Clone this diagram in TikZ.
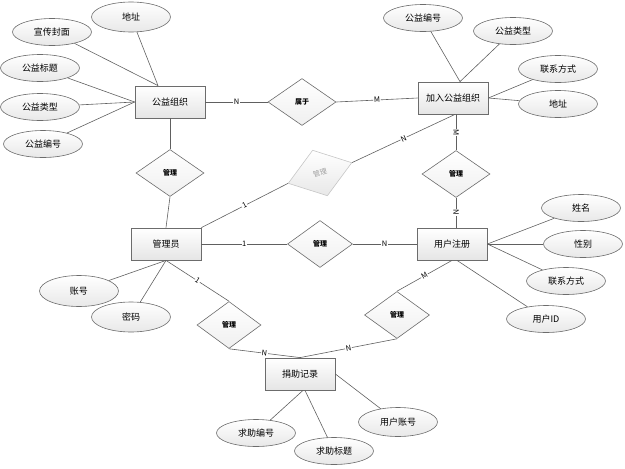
\documentclass[tikz,border=0pt]{standalone}
\usepackage{fontspec}
\setmainfont{Noto Sans CJK SC}
\usetikzlibrary{shapes.geometric}

\tikzset{
  entity/.style={draw=gray!85!black,line width=0.8pt,top color=white,bottom color=gray!20,
    minimum width=70pt,minimum height=32pt,inner sep=0pt,font=\fontsize{9}{10}\selectfont},
  attr/.style={ellipse,draw=gray!85!black,line width=0.6pt,top color=white,bottom color=gray!18,
    minimum width=79pt,minimum height=27pt,inner sep=0pt,font=\fontsize{9}{10}\selectfont},
  rel/.style={diamond,draw=gray!85!black,line width=0.6pt,top color=white,bottom color=gray!12,
    minimum width=68pt,minimum height=47pt,inner sep=0pt,font=\fontsize{7}{8}\selectfont\bfseries},
  ghost/.style={rel,draw=gray!45,top color=white,bottom color=gray!18,text=gray!75,font=\fontsize{7}{8}\selectfont},
  link/.style={draw=gray!75!black,line width=0.6pt},
  card/.style={fill=white,inner sep=0.6pt,sloped,font=\fontsize{7.5}{8}\selectfont}
}

\begin{document}
\begin{tikzpicture}[x=1pt,y=-1pt]
\useasboundingbox (0,0) rectangle (625,469);

% entities
\node[entity] (org) at (170,102) {公益组织};
\node[entity] (join) at (453,98) {加入公益组织};
\node[entity] (adm) at (166,244) {管理员};
\node[entity] (reg) at (452,244) {用户注册};
\node[entity] (don) at (300,374) {捐助记录};

% relations
\node[rel] (belong) at (302,102) {属于};
\node[rel] (mgrA) at (170,173) {管理};
\node[rel] (mgrB) at (456,174) {管理};
\node[ghost,rotate=18,minimum width=67pt,minimum height=48pt] (mgrG) at (320,173) {管理};
\node[rel,minimum width=65pt] (mgrC) at (320,244) {管理};
\node[rel,minimum width=64pt] (mgrD) at (229,325) {管理};
\node[rel,minimum width=65pt] (mgrE) at (397,315) {管理};

% attributes
\node[attr] (orgCover) at (52,32) {宣传封面};
\node[attr,minimum height=30pt] (orgAddr) at (131,17) {地址};
\node[attr] (orgTitle) at (40,68) {公益标题};
\node[attr] (orgType) at (40,107) {公益类型};
\node[attr] (orgNo) at (43,144) {公益编号};

\node[attr] (joinNo) at (423,18) {公益编号};
\node[attr] (joinType) at (513,31) {公益类型};
\node[attr] (joinTel) at (558,69) {联系方式};
\node[attr] (joinAddr) at (558,104) {地址};

\node[attr] (regName) at (581,208) {姓名};
\node[attr] (regSex) at (583,244) {性别};
\node[attr] (regTel) at (566,281) {联系方式};
\node[attr] (regId) at (546,319) {用户ID};

\node[attr,minimum height=31pt] (admAcc) at (79,291) {账号};
\node[attr,minimum height=30pt] (admPwd) at (131,317) {密码};

\node[attr] (donNo) at (256,433) {求助编号};
\node[attr] (donTitle) at (334,451) {求助标题};
\node[attr,minimum height=29pt] (donAcc) at (398,422) {用户账号};

% attribute links
\draw[link] (orgCover) -- ([xshift=-12pt]org.north);
\draw[link] (orgAddr) -- ([xshift=-12pt]org.north);
\draw[link] (orgTitle) -- (org.west);
\draw[link] (orgType) -- (org.west);
\draw[link] (orgNo) -- (org.west);
\draw[link] (joinNo) -- ([xshift=7pt]join.north);
\draw[link] (joinType) -- ([xshift=7pt]join.north);
\draw[link] (joinTel) -- (join.east);
\draw[link] (joinAddr) -- (join.east);
\draw[link] (regName) -- (reg.east);
\draw[link] (regSex) -- (reg.east);
\draw[link] (regTel) -- (reg.east);
\draw[link] (regId) -- ([xshift=5pt]reg.south);
\draw[link] (admAcc) -- (adm.south);
\draw[link] (admPwd) -- (adm.south);
\draw[link] (donNo) -- ([xshift=3pt]don.south);
\draw[link] (donTitle) -- ([xshift=5pt]don.south);
\draw[link] (donAcc) -- (don.east);

% relation links
\draw[link] (org.east) -- node[card]{N} (belong.west);
\draw[link] (belong.east) -- node[card]{M} (join.west);
\draw[link] (org.south) -- (mgrA.north);
\draw[link] (mgrA.south) -- (adm.north);
\draw[link] (mgrB.north |- join.south) -- node[card]{M} (mgrB.north);
\draw[link] (mgrB.south) -- node[card]{N} (mgrB.south |- reg.north);
\draw[link] (adm.north east) -- node[card]{1} (mgrG.west);
\draw[link] (mgrG.east) -- node[card]{N} ([xshift=2pt]join.south);
\draw[link] (adm.east) -- node[card]{1} (mgrC.west);
\draw[link] (mgrC.east) -- node[card]{N} (reg.west);
\draw[link] (adm.south) -- node[card]{1} (mgrD.north);
\draw[link] (mgrD.south) -- node[card]{N} (don.north);
\draw[link] (reg.south) -- node[card]{M} (mgrE.north);
\draw[link] (mgrE.south) -- node[card]{N} (don.north);
\end{tikzpicture}
\end{document}
